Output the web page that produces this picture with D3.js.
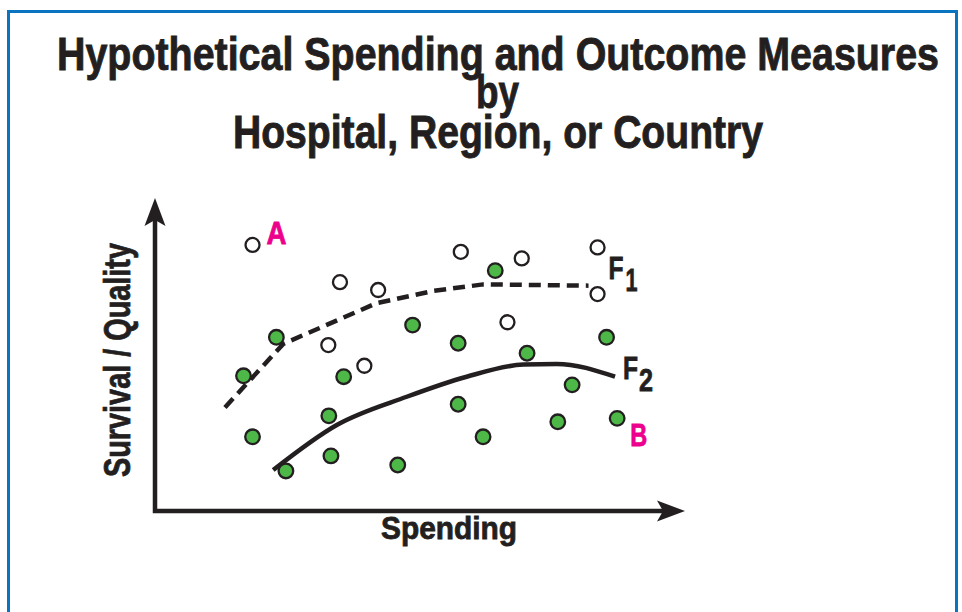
<!DOCTYPE html>
<html>
<head>
<meta charset="utf-8">
<script src="https://cdn.jsdelivr.net/npm/d3@7"></script>
<style>
  html, body { margin: 0; padding: 0; background: #fff; }
  svg { display: block; }
</style>
</head>
<body>
<svg id="chart" width="962" height="612"></svg>
<script>
// ---- data (spending, outcome on a 0-100 schematic scale) ----
const titleLines = ['Hypothetical Spending and Outcome Measures', 'by', 'Hospital, Region, or Country'];
const xLabel = 'Spending';
const yLabel = 'Survival / Quality';

// hollow points (on / near the efficient frontier F1)
const openPoints = [
  [18.4, 85.0], [34.9, 73.1], [42.1, 70.6], [57.7, 82.8], [69.2, 80.7],
  [83.5, 84.2], [83.5, 69.3], [32.7, 53.0], [39.5, 46.4], [66.5, 60.3]
];
// filled points
const greenPoints = [
  [64.2, 76.8], [22.9, 55.5], [48.6, 59.4], [57.2, 53.6], [70.2, 50.4],
  [85.2, 55.5], [16.7, 43.2], [35.6, 42.9], [78.7, 40.3], [57.2, 34.1],
  [32.8, 30.4], [76.0, 28.5], [87.2, 29.6], [18.4, 23.7], [61.9, 23.7],
  [33.2, 17.6], [45.8, 14.7], [24.7, 12.8]
];
// frontier curves
const frontier1 = [[13.2, 33.1], [24.2, 53.4], [41.8, 66.4], [52.5, 70.3], [61.9, 72.4], [81.8, 72.0]];
const frontier2 = [[22.3, 13.1], [34.3, 27.5], [47.5, 36.5], [58.8, 42.9], [69.5, 46.8], [75.8, 47.0], [86.8, 42.9]];

const CONFIG = {
  ink     : '#231f20',
  green   : '#4db848',
  magenta : '#ec008c',
  frame   : '#0a74c0',
  font    : '"Liberation Sans", Arial, Helvetica, sans-serif'
};

const svg = d3.select('#chart');

// ---------- frame ----------
svg.append('rect')
  .attr('x', 8.5).attr('y', 11.5)
  .attr('width', 948).attr('height', 640)
  .attr('fill', 'none')
  .attr('stroke', CONFIG.frame)
  .attr('stroke-width', 3);

// ---------- title ----------
const titleSpec = [
  { x: 57,  y: 70,  len: 882 },
  { x: 476, y: 108, len: 43 },
  { x: 233, y: 148, len: 530 }
];
svg.append('g').selectAll('text')
  .data(titleLines)
  .join('text')
    .attr('x', (d, i) => titleSpec[i].x)
    .attr('y', (d, i) => titleSpec[i].y)
    .attr('textLength', (d, i) => titleSpec[i].len)
    .attr('lengthAdjust', 'spacingAndGlyphs')
    .attr('font-family', CONFIG.font)
    .attr('font-weight', 700)
    .attr('font-size', 47)
    .attr('fill', CONFIG.ink)
    .attr('stroke', CONFIG.ink)
    .attr('stroke-width', 0.9)
    .text(d => d);

// ---------- scales ----------
const x = d3.scaleLinear().domain([0, 100]).range([155, 685]);
const y = d3.scaleLinear().domain([0, 100]).range([511, 198]);

// ---------- axes with arrow heads ----------
const axes = svg.append('g').attr('class', 'axes');
axes.append('path')
  .attr('d', `M${x(0)},${y(100) + 20}V${y(0)}H${x(100) - 20}`)
  .attr('fill', 'none')
  .attr('stroke', CONFIG.ink)
  .attr('stroke-width', 4.5)
  .attr('stroke-linecap', 'square');

function arrowHead(tx, ty, angle){
  // tip at (tx,ty), pointing along angle (radians)
  const L = 28, W = 10.5, N = 22;
  const c = Math.cos(angle), s = Math.sin(angle);
  const p = (a, b) => [tx - a * c - b * s, ty - a * s + b * c];
  return 'M' + [p(0, 0), p(L, -W), p(N, 0), p(L, W)].map(q => q.join(',')).join('L') + 'Z';
}
axes.append('path').attr('d', arrowHead(x(0), y(100), -Math.PI / 2)).attr('fill', CONFIG.ink);
axes.append('path').attr('d', arrowHead(x(100), y(0), 0)).attr('fill', CONFIG.ink);

// axis labels
svg.append('text')
  .attr('x', 381).attr('y', 539)
  .attr('textLength', 136).attr('lengthAdjust', 'spacingAndGlyphs')
  .attr('font-family', CONFIG.font).attr('font-weight', 700)
  .attr('font-size', 31).attr('fill', CONFIG.ink)
  .attr('stroke', CONFIG.ink).attr('stroke-width', 0.8)
  .text(xLabel);

svg.append('text')
  .attr('transform', 'translate(130,477) rotate(-90)')
  .attr('textLength', 234).attr('lengthAdjust', 'spacingAndGlyphs')
  .attr('font-family', CONFIG.font).attr('font-weight', 700)
  .attr('font-size', 36).attr('fill', CONFIG.ink)
  .attr('stroke', CONFIG.ink).attr('stroke-width', 0.8)
  .text(yLabel);

// ---------- frontier lines ----------
const line = d3.line().x(d => x(d[0])).y(d => y(d[1])).curve(d3.curveMonotoneX);

svg.append('path')
  .datum(frontier1)
  .attr('d', d3.line().x(d => x(d[0])).y(d => y(d[1])))
  .attr('fill', 'none')
  .attr('stroke', CONFIG.ink)
  .attr('stroke-width', 4.5)
  .attr('stroke-dasharray', '12,7');

svg.append('path')
  .datum(frontier2)
  .attr('d', line)
  .attr('fill', 'none')
  .attr('stroke', CONFIG.ink)
  .attr('stroke-width', 4.5);

// ---------- points ----------
svg.append('g').selectAll('circle')
  .data(openPoints)
  .join('circle')
    .attr('cx', d => x(d[0])).attr('cy', d => y(d[1]))
    .attr('r', 7)
    .attr('fill', '#fff')
    .attr('stroke', CONFIG.ink)
    .attr('stroke-width', 2.3);

svg.append('g').selectAll('circle')
  .data(greenPoints)
  .join('circle')
    .attr('cx', d => x(d[0])).attr('cy', d => y(d[1]))
    .attr('r', 7.3)
    .attr('fill', CONFIG.green)
    .attr('stroke', CONFIG.ink)
    .attr('stroke-width', 2.3);

// ---------- annotations ----------
function label(px, py, txt, colour, len, size){
  svg.append('text')
    .attr('x', px).attr('y', py)
    .attr('textLength', len).attr('lengthAdjust', 'spacingAndGlyphs')
    .attr('font-family', CONFIG.font).attr('font-weight', 700)
    .attr('font-size', size).attr('fill', colour)
    .attr('stroke', colour).attr('stroke-width', 0.8)
    .text(txt);
}
const pA = openPoints[0], pB = greenPoints[12];
const e1 = frontier1[frontier1.length - 1], e2 = frontier2[frontier2.length - 1];

label(x(pA[0]) + 14, y(pA[1]) - 1, 'A', CONFIG.magenta, 20, 32);
label(x(pB[0]) + 13, y(pB[1]) + 28, 'B', CONFIG.magenta, 17, 32);
label(x(e1[0]) + 20, y(e1[1]) - 7, 'F', CONFIG.ink, 15, 32);
label(x(e1[0]) + 37, y(e1[1]) + 5, '1', CONFIG.ink, 12, 32);
label(x(e2[0]) + 8,  y(e2[1]) + 2, 'F', CONFIG.ink, 15, 32);
label(x(e2[0]) + 24, y(e2[1]) + 14, '2', CONFIG.ink, 14, 32);
</script>
</body>
</html>
